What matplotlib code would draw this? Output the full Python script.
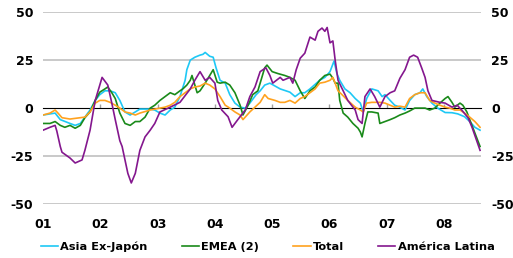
import numpy as np
import matplotlib
matplotlib.use("Agg")
import matplotlib.pyplot as plt

# time in decimal years, values in %
t_asia = [2001.00, 2001.21, 2001.30, 2001.47, 2001.56, 2001.65, 2001.82, 2001.91, 2001.99, 2002.08,
          2002.17, 2002.26, 2002.34, 2002.43, 2002.52, 2002.61, 2002.69, 2002.87, 2002.95, 2003.04,
          2003.13, 2003.22, 2003.30, 2003.39, 2003.48, 2003.51, 2003.57, 2003.65, 2003.74, 2003.79,
          2003.83, 2003.91, 2003.97, 2004.02, 2004.09, 2004.18, 2004.26, 2004.35, 2004.44, 2004.53,
          2004.61, 2004.72, 2004.79, 2004.87, 2004.96, 2005.14, 2005.31, 2005.40, 2005.49, 2005.57,
          2005.66, 2005.83, 2005.92, 2006.01, 2006.08, 2006.13, 2006.18, 2006.27, 2006.36, 2006.45,
          2006.54, 2006.59, 2006.65, 2006.74, 2006.85, 2006.92, 2006.97, 2007.06, 2007.14, 2007.23,
          2007.32, 2007.40, 2007.49, 2007.58, 2007.63, 2007.70, 2007.79, 2007.89, 2008.02, 2008.14,
          2008.24, 2008.36, 2008.45, 2008.54, 2008.63]
asia = [-3.6, -2.6, -6, -8, -9, -8, -1, 4, 7, 9,
        9, 8, 4, -2, -3.6, -2, -0.5, -0.5, -1, -2.6,
        -3.6, -1, 0.5, 6, 14.5, 20, 25, 26.5, 27.6, 28,
        29, 27, 26.5, 21, 14.5, 13, 7, 2.6, 0.5, 0,
        2.6, 7, 9, 12, 13, 10, 8.3, 6, 8, 8,
        10, 14.5, 16, 19, 24.5, 18, 14.5, 10, 8, 5,
        2.6, -2, 5, 10, 9, 6, 7, 4, 1.5, 0.5,
        -1, 4, 7, 8, 10, 6, 2.6, 0, -2.3, -2.4,
        -3, -4.5, -7, -10, -11.5]

t_emea = [2001.00, 2001.12, 2001.21, 2001.30, 2001.38, 2001.47, 2001.56, 2001.65, 2001.73, 2001.82,
          2001.91, 2001.99, 2002.08, 2002.13, 2002.20, 2002.26, 2002.34, 2002.43, 2002.52, 2002.61,
          2002.69, 2002.78, 2002.87, 2002.95, 2003.04, 2003.13, 2003.22, 2003.30, 2003.39, 2003.44,
          2003.51, 2003.57, 2003.60, 2003.65, 2003.69, 2003.74, 2003.83, 2003.97, 2004.04, 2004.09,
          2004.18, 2004.26, 2004.35, 2004.44, 2004.49, 2004.58, 2004.66, 2004.75, 2004.82, 2004.87,
          2004.91, 2005.00, 2005.10, 2005.22, 2005.31, 2005.40, 2005.49, 2005.57, 2005.66, 2005.75,
          2005.83, 2005.92, 2006.01, 2006.06, 2006.10, 2006.15, 2006.18, 2006.24, 2006.32, 2006.41,
          2006.50, 2006.54, 2006.57, 2006.62, 2006.67, 2006.74, 2006.85, 2006.88, 2006.97, 2007.06,
          2007.14, 2007.23, 2007.32, 2007.40, 2007.49, 2007.58, 2007.67, 2007.75, 2007.84, 2007.93,
          2008.02, 2008.07, 2008.14, 2008.19, 2008.28, 2008.33, 2008.40, 2008.45, 2008.54, 2008.63]
emea = [-8, -8, -7, -9, -10, -9, -10.5, -9, -5, -2,
        4, 8.3, 10, 11, 8, 5, -2.6, -8, -9, -7,
        -7, -4.7, 0, 1.5, 4, 6, 8, 7, 9, 10,
        12, 14.5, 17, 12, 8, 9, 13, 20, 13.5, 13,
        13.5, 12, 8, 1.5, -3.6, 1.5, 7, 9, 16, 21,
        22.4, 19, 18, 17, 16, 14.5, 9, 5, 9, 11,
        14.5, 17, 17.7, 15.6, 13, 13, 4, -2.6, -4.7, -8,
        -10.5, -12.5, -15, -8, -2, -2, -2.6, -8, -7, -6,
        -5, -3.6, -2.6, -1.5, 0, 0, 0, -1, 0, 2.6,
        5, 6, 3, 0.5, 2.6, 1.5, -2, -6, -13, -20]

t_total = [2001.00, 2001.12, 2001.21, 2001.26, 2001.33, 2001.47, 2001.65, 2001.73, 2001.82, 2001.91,
           2001.99, 2002.08, 2002.17, 2002.26, 2002.34, 2002.43, 2002.52, 2002.61, 2002.69, 2002.87,
           2003.04, 2003.13, 2003.22, 2003.30, 2003.39, 2003.48, 2003.57, 2003.65, 2003.74, 2003.83,
           2003.91, 2004.00, 2004.09, 2004.18, 2004.26, 2004.35, 2004.44, 2004.49, 2004.61, 2004.70,
           2004.79, 2004.87, 2004.93, 2005.05, 2005.14, 2005.22, 2005.31, 2005.40, 2005.49, 2005.57,
           2005.66, 2005.75, 2005.83, 2005.92, 2006.01, 2006.06, 2006.10, 2006.15, 2006.22, 2006.32,
           2006.45, 2006.54, 2006.59, 2006.65, 2006.74, 2006.88, 2006.97, 2007.06, 2007.14, 2007.23,
           2007.32, 2007.40, 2007.49, 2007.58, 2007.67, 2007.75, 2007.84, 2007.93, 2008.02, 2008.10,
           2008.19, 2008.28, 2008.36, 2008.45, 2008.54, 2008.63]
total = [-3.6, -2.6, -1, -2.6, -5, -5.7, -5, -4.7, -2, 2.6,
         4, 4, 3, 1.5, 0, -2, -2.6, -3.6, -2.6, -1,
         0, 0.5, 1.5, 3, 6, 8, 10, 11, 11.5, 13,
         12, 10, 6, 1.5, 0, -2, -3.6, -6, -2, 0.5,
         3, 7, 5, 4, 3, 3, 4, 2.6, 5, 6,
         8, 10, 13, 13.5, 14.5, 16, 13, 9, 7, 4,
         0.5, -1, -2, 2.6, 3, 3, 2.6, 1.5, 0.5, 1,
         0.5, 5, 7, 8, 8, 4, 2.6, 1.5, 0.5, 0,
         -1, -1, -2.6, -4.7, -7, -10]

t_latam = [2001.00, 2001.12, 2001.21, 2001.24, 2001.30, 2001.33, 2001.47, 2001.56, 2001.68, 2001.73,
           2001.82, 2001.91, 2002.03, 2002.13, 2002.20, 2002.26, 2002.34, 2002.38, 2002.48, 2002.54,
           2002.61, 2002.69, 2002.78, 2002.87, 2002.95, 2003.04, 2003.22, 2003.39, 2003.57, 2003.65,
           2003.74, 2003.83, 2003.91, 2004.00, 2004.05, 2004.12, 2004.23, 2004.30, 2004.40, 2004.53,
           2004.61, 2004.70, 2004.79, 2004.89, 2004.96, 2005.01, 2005.14, 2005.19, 2005.31, 2005.36,
           2005.42, 2005.49, 2005.57, 2005.66, 2005.75, 2005.80, 2005.87, 2005.92, 2005.96, 2006.01,
           2006.06, 2006.10, 2006.15, 2006.24, 2006.32, 2006.45, 2006.50, 2006.57, 2006.62, 2006.71,
           2006.79, 2006.88, 2006.97, 2007.06, 2007.14, 2007.23, 2007.32, 2007.40, 2007.47, 2007.54,
           2007.61, 2007.67, 2007.72, 2007.79, 2007.93, 2008.02, 2008.14, 2008.23, 2008.31, 2008.42,
           2008.49, 2008.63]
latam = [-11.5, -10, -9, -12, -20, -23, -26, -28.6, -27, -22,
         -11.5, 4, 16, 12, 2.6, -6, -17, -20, -34, -39,
         -34, -22, -15, -11.5, -8, -2, 0.5, 3, 10, 14.5,
         19, 14.5, 16, 13, 4, -1, -4.5, -10, -6, -1,
         6, 11, 19, 21, 17, 13, 16, 14.5, 16, 13,
         20, 26, 28.6, 37, 35.4, 40, 41.7, 40, 42, 34,
         35, 25, 14.5, 9, 4, -1, -6, -8, 6, 10,
         6, 0.5, 6, 8, 9, 15.5, 20, 26.5, 27.6, 26.5,
         21, 16, 9, 4, 3, 2.6, 0.5, 1.5, -1, -5,
         -10, -22]

years = [2001, 2002, 2003, 2004, 2005, 2006, 2007, 2008]
year_labels = ['01', '02', '03', '04', '05', '06', '07', '08']
y_ticks = [-50, -25, 0, 25, 50]

plt.rcParams['font.family'] = 'DejaVu Sans'
plt.rcParams['font.weight'] = 'bold'
plt.rcParams['axes.unicode_minus'] = False

fig = plt.figure(figsize=(5.13, 2.58), dpi=100)
ax = fig.add_axes([0.084, 0.209, 0.854, 0.744])

for yv in y_ticks:
    if yv != 0:
        ax.axhline(yv, color='#c0c0c0', lw=1.2, zorder=1)

lw = 1.2
ax.plot(t_asia, asia, color='#1ec8f5', lw=lw, label='Asia Ex-Japón', zorder=3)
ax.plot(t_emea, emea, color='#1a8a1a', lw=lw, label='EMEA (2)', zorder=3)
ax.plot(t_total, total, color='#ffa21f', lw=lw, label='Total', zorder=3)
ax.plot(t_latam, latam, color='#84178e', lw=lw, label='América Latina', zorder=4)

ax.set_xlim(2001, 2008.65)
ax.set_ylim(-50, 50)
for s in ax.spines.values():
    s.set_visible(False)

# zero line acts as the time axis with year ticks
zero = ax.secondary_xaxis(0.5)
zero.set_xticks(years[1:])
zero.set_xticklabels([])
zero.spines['bottom'].set_color('#a0a0a0')
zero.spines['bottom'].set_linewidth(1.5)
zero.tick_params(axis='x', direction='out', length=3, width=1, color='#a0a0a0')

ax.set_xticks(years)
ax.set_xticklabels(year_labels)
ax.set_yticks(y_ticks)
ax.tick_params(axis='x', length=0, pad=10, labelsize=9)
ax.tick_params(axis='y', length=0, pad=7, labelsize=9, labelleft=True, labelright=True)

fig.legend(loc='center', bbox_to_anchor=(0.522, 0.045), ncol=4, frameon=False,
           fontsize=8.2, handlelength=1.5, handletextpad=0.2, columnspacing=3.0)

fig.savefig('out.png', dpi=100)
